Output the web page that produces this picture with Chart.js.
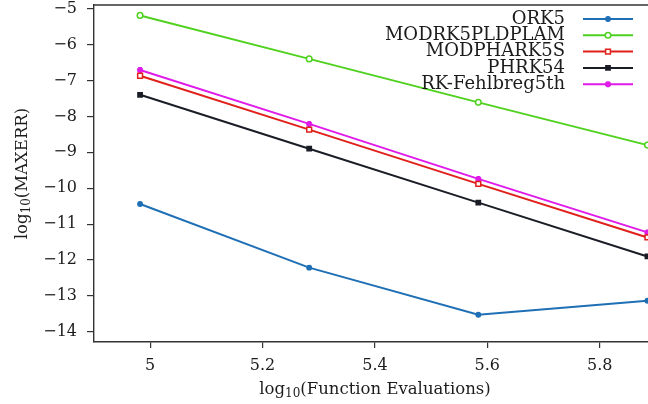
<!DOCTYPE html>
<html>
<head>
<meta charset="utf-8">
<script src="https://cdn.jsdelivr.net/npm/chart.js@4.4.1/dist/chart.umd.min.js"></script>
<style>
  html, body { margin: 0; padding: 0; background: #fff; overflow: hidden; }
  #wrap { width: 648px; height: 404px; position: relative; }
  #errChart { display: block; }
</style>
</head>
<body>
<div id="wrap"><canvas id="errChart"></canvas></div>
<script>
// log10 of function evaluations
const evals = [4.982, 5.283, 5.584, 5.885];

// log10 of max error per method
const ork5      = [-10.44, -12.21, -13.52, -13.13];
const modrk5    = [-5.19, -6.40, -7.61, -8.80];
const modphark  = [-6.87, -8.37, -9.88, -11.37];
const phrk54    = [-7.40, -8.90, -10.40, -11.90];
const rkFehl    = [-6.71, -8.21, -9.74, -11.23];

const xTicks = [5, 5.2, 5.4, 5.6, 5.8];
const yTicks = [-14, -13, -12, -11, -10, -9, -8, -7, -6, -5];

const FONT = "'DejaVu Serif', 'Liberation Serif', serif";
const INK = "#1c1c1c";

const series = [
  { name: "ORK5", values: ork5, color: "#1f6fb5", style: "circle", r: 2.2, fill: "#1f6fb5" },
  { name: "MODRK5PLDPLAM", values: modrk5, color: "#4fd11f", style: "circle", r: 2.8, fill: "#ffffff" },
  { name: "MODPHARK5S", values: modphark, color: "#e0201b", style: "rect", r: 3.4, fill: "#ffffff" },
  { name: "PHRK54", values: phrk54, color: "#1a1d26", style: "rect", r: 3, fill: "#1a1d26" },
  { name: "RK-Fehlbreg5th", values: rkFehl, color: "#e01ae8", style: "star", r: 3, fill: "#e01ae8" }
];

const datasets = series.map(s => ({
  label: s.name,
  data: evals.map((x, i) => ({ x: x, y: s.values[i] })),
  borderColor: s.color,
  backgroundColor: s.fill,
  borderWidth: 2,
  pointStyle: s.style,
  pointRadius: s.r,
  pointBorderWidth: s.style === "star" ? 2.4 : 1.5,
  pointBorderColor: s.color,
  pointBackgroundColor: s.fill,
  tension: 0
}));

// legend: right aligned labels with a line sample to their right
const sideLegend = {
  id: "sideLegend",
  afterDraw(chart) {
    const c = chart.ctx;
    c.save();
    c.font = "18px " + FONT;
    c.textAlign = "right";
    c.textBaseline = "middle";
    chart.data.datasets.forEach((ds, i) => {
      const y = 19 + i * 16.3;
      c.fillStyle = INK;
      c.fillText(ds.label, 565, y);
      c.strokeStyle = ds.borderColor;
      c.lineWidth = 2;
      c.beginPath();
      c.moveTo(583, y);
      c.lineTo(633, y);
      c.stroke();
      c.fillStyle = ds.pointBackgroundColor;
      c.lineWidth = ds.pointBorderWidth;
      Chart.helpers.drawPoint(c, {
        pointStyle: ds.pointStyle, radius: ds.pointRadius,
        borderWidth: ds.pointBorderWidth, rotation: 0
      }, 608, y);
    });
    c.restore();
  }
};

// axis titles with subscripted "10", plus the top frame line
const axisTitles = {
  id: "axisTitles",
  afterDraw(chart) {
    const c = chart.ctx;
    const a = chart.chartArea;
    c.save();
    c.strokeStyle = "#333";
    c.lineWidth = 1.4;
    c.beginPath();
    c.moveTo(a.left, a.top);
    c.lineTo(a.right, a.top);
    c.stroke();

    const drawTitle = (body, cx, cy, rot) => {
      const big = "16.5px " + FONT, small = "12px " + FONT;
      c.font = big;
      const w1 = c.measureText("log").width;
      const w3 = c.measureText(body).width;
      c.font = small;
      const w2 = c.measureText("10").width;
      const total = w1 + w2 + w3;
      c.save();
      c.translate(cx, cy);
      c.rotate(rot);
      c.fillStyle = INK;
      c.textBaseline = "alphabetic";
      c.textAlign = "left";
      let x = -total / 2;
      c.font = big;
      c.fillText("log", x, 5);
      x += w1;
      c.font = small;
      c.fillText("10", x, 8);
      x += w2;
      c.font = big;
      c.fillText(body, x, 5);
      c.restore();
    };
    drawTitle("(Function Evaluations)", 375, 389, 0);
    drawTitle("(MAXERR)", 22, (a.top + a.bottom) / 2, -Math.PI / 2);
    c.restore();
  }
};

new Chart(document.getElementById("errChart"), {
  type: "line",
  data: { datasets: datasets },
  options: {
    responsive: true,
    maintainAspectRatio: false,
    animation: false,
    layout: { autoPadding: false, padding: { top: 5, left: 0, right: 0, bottom: 0 } },
    plugins: {
      legend: { display: false },
      tooltip: { enabled: false }
    },
    scales: {
      x: {
        type: "linear",
        min: 4.9,
        max: 5.886,
        afterBuildTicks: axis => { axis.ticks = xTicks.map(v => ({ value: v })); },
        afterFit: axis => { axis.height = 62; axis.paddingLeft = 0; axis.paddingRight = 0; },
        ticks: {
          color: INK,
          font: { family: FONT, size: 16 },
          padding: 8,
          maxRotation: 0,
          callback: v => String(v)
        },
        grid: { drawOnChartArea: false, drawTicks: true, tickLength: 6, color: "#333", lineWidth: 1.2 },
        border: { color: "#333", width: 1.4 }
      },
      y: {
        min: -14.28,
        max: -4.9,
        afterBuildTicks: axis => { axis.ticks = yTicks.map(v => ({ value: v })); },
        afterFit: axis => { axis.width = 94; axis.paddingTop = 0; axis.paddingBottom = 0; },
        ticks: {
          color: INK,
          font: { family: FONT, size: 16 },
          padding: 10,
          callback: v => (v < 0 ? "\u2212" + Math.abs(v) : String(v))
        },
        grid: { drawOnChartArea: false, drawTicks: true, tickLength: 7, color: "#333", lineWidth: 1.2 },
        border: { color: "#333", width: 1.4 }
      }
    }
  },
  plugins: [sideLegend, axisTitles]
});
</script>
</body>
</html>
